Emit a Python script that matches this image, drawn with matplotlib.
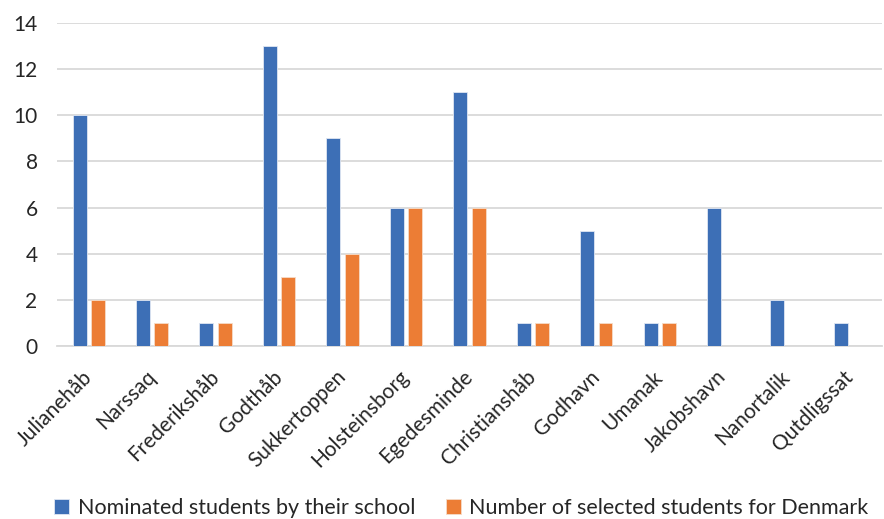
import matplotlib
matplotlib.use("Agg")
import matplotlib.pyplot as plt
import numpy as np

categories = ["Julianehåb", "Narssaq", "Frederikshåb", "Godthåb", "Sukkertoppen",
              "Holsteinsborg", "Egedesminde", "Christianshåb", "Godhavn", "Umanak",
              "Jakobshavn", "Nanortalik", "Qutdligssat"]
nominated = [10, 2, 1, 13, 9, 6, 11, 1, 5, 1, 6, 2, 1]
selected = [2, 1, 1, 3, 4, 6, 6, 1, 1, 1, 0, 0, 0]
series_names = ["Nominated students by their school", "Number of selected students for Denmark"]
yticks = [0, 2, 4, 6, 8, 10, 12, 14]

plt.rcParams['font.family'] = ['Lato', 'DejaVu Sans']

fig = plt.figure(figsize=(8.84, 5.19), dpi=100)
ax = fig.add_axes([0.0645, 0.3333, 0.933, 0.6224])

x = np.arange(len(categories))
w = 0.22
off = 0.145
ax.bar(x - off, nominated, w, color="#3D6FB6", edgecolor="#dfe6f2", linewidth=0.6,
       label=series_names[0], zorder=3)
ax.bar(x + off, selected, w, color="#EC7D35", edgecolor="#f6dcc8", linewidth=0.6,
       label=series_names[1], zorder=3)

ax.set_xlim(-0.5, len(categories) - 0.5)
ax.set_ylim(0, 14)
ax.set_yticks(yticks)
ax.set_yticklabels([str(v) for v in yticks], fontsize=15, color="#262626")
ax.yaxis.grid(True, color="#D9D9D9", linewidth=1.3, zorder=0)
ax.set_axisbelow(True)
for s in ["top", "right", "left"]:
    ax.spines[s].set_visible(False)
ax.spines["bottom"].set_color("#D9D9D9")
ax.spines["bottom"].set_linewidth(1.3)
ax.tick_params(axis="both", length=0)
ax.tick_params(axis="y", pad=14)

ax.set_xticks(x)
ax.set_xticklabels(categories, rotation=45, ha="right", va="center",
                   rotation_mode="anchor", fontsize=15, color="#262626")
ax.tick_params(axis="x", pad=20)

fig.legend(loc="lower center", bbox_to_anchor=(0.522, -0.036), ncol=2, frameon=False,
           fontsize=15.5, handlelength=0.7, handleheight=0.7, handletextpad=0.4,
           columnspacing=1.4, labelcolor="#262626")

fig.savefig("out.png", dpi=100)
